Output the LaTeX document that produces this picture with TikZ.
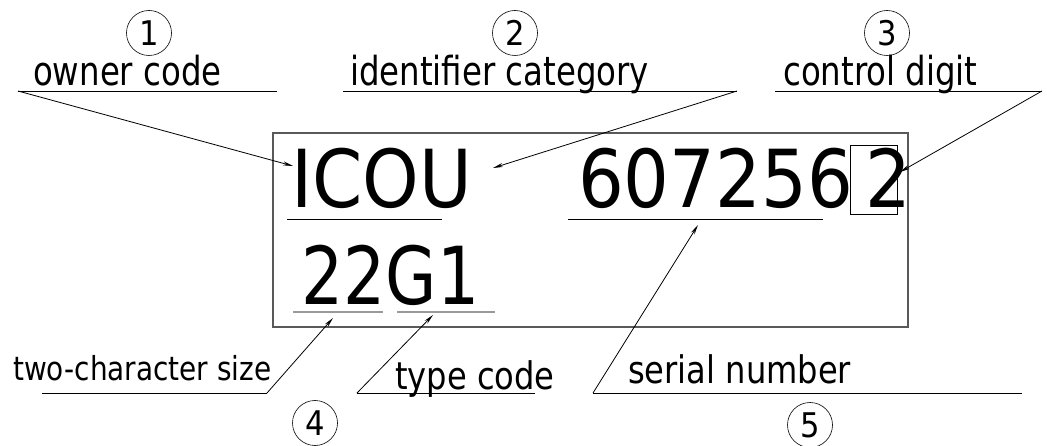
\documentclass[tikz,border=0pt]{standalone}
\usepackage{fontspec}
\setmainfont{DejaVu Sans Condensed}
\newfontfamily\nrwA[FakeStretch=0.9]{DejaVu Sans Condensed}
\newfontfamily\nrwB[FakeStretch=0.94]{DejaVu Sans Condensed}
\newfontfamily\nrwC[FakeStretch=0.92]{DejaVu Sans Condensed}
\usetikzlibrary{arrows.meta}
\begin{document}
\begin{tikzpicture}[x=1pt,y=-1pt,
  ln/.style={line width=0.8pt,black},
  gln/.style={line width=1.2pt,gray!80},
  arr/.style={ln,-{Stealth[length=10pt,width=4pt]}},
  toplbl/.style={font=\nrwA\fontsize{40}{44}\selectfont,anchor=base west,inner sep=0pt},
  botlbl/.style={font=\nrwB\fontsize{38}{42}\selectfont,anchor=base west,inner sep=0pt},
  smlbl/.style={font=\nrwB\fontsize{33}{36}\selectfont,anchor=base west,inner sep=0pt},
  bigtxt/.style={font=\fontsize{80}{88}\selectfont,anchor=base west,inner sep=0pt},
  num/.style={circle,draw,line width=0.6pt,minimum size=45pt,inner sep=0pt,font=\fontsize{34}{36}\selectfont}]
\useasboundingbox (0,0) rectangle (1047,446);
% plate
\draw[line width=1.2pt,gray!70!black] (273,133) rectangle (908,327);
% big text
\node[bigtxt] (icou) at (291,208) {ICOU};
\node[bigtxt] (ser) at (578,208) {607256};
\node[bigtxt] (cd) at (865,208) {2};
\node[bigtxt,font=\nrwC\fontsize{80}{88}\selectfont] (sz) at (301,305) {22};
\node[bigtxt,font=\nrwC\fontsize{80}{88}\selectfont,anchor=base west] (ty) at (sz.base east) {G1};
\node[draw,ln,minimum width=47pt,minimum height=69pt,inner sep=0pt] (cdbox) at (873.5,179.5) {};
% underlines in plate
\coordinate (u1a) at (287,219); \coordinate (u1b) at (442,219);
\coordinate (u2a) at (568,219); \coordinate (u2b) at (823,219);
\draw[ln] (u1a) -- (u1b);
\draw[ln] (u2a) -- (u2b);
\coordinate (u3a) at (293,312); \coordinate (u3b) at (383,312);
\coordinate (u4a) at (397,312); \coordinate (u4b) at (495,312);
\draw[gln] (u3a) -- (u3b);
\draw[gln] (u4a) -- (u4b);
% top labels
\node[num] (n1) at (149,33) {1};
\node[num] (n2) at (515,33) {2};
\node[num] (n3) at (887,33) {3};
\node[toplbl] (l1) at (33,86) {owner code};
\node[toplbl] (l2) at (350,86) {identifier category};
\node[toplbl] (l3) at (783,86) {control digit};
\coordinate (a1s) at (18,91); \coordinate (a1e) at (277,91);
\coordinate (a2s) at (343,91); \coordinate (a2e) at (737,91);
\coordinate (a3s) at (775,91); \coordinate (a3e) at (1042,91);
\coordinate (t1) at (293,166);
\coordinate (t2) at (493,168);
\coordinate (t3) at (900,172);
\draw[ln] (a1e) -- (a1s);
\draw[arr] (a1s) -- (t1);
\draw[ln] (a2s) -- (a2e);
\draw[arr] (a2e) -- (t2);
\draw[ln] (a3s) -- (a3e);
\draw[arr] (a3e) -- (t3);
% bottom labels
\node[smlbl] (l4) at (13,380) {two-character size};
\node[botlbl] (l5) at (395,389) {type code};
\node[botlbl] (l6) at (628,383) {serial number};
\node[num] (n4) at (315,423) {4};
\node[num] (n5) at (810,425) {5};
\coordinate (b1s) at (42,393); \coordinate (b1e) at (267,393);
\coordinate (b2s) at (357,393); \coordinate (b2e) at (535,393);
\coordinate (b3s) at (593,393); \coordinate (b3e) at (1022,393);
\coordinate (t4) at (333,318);
\coordinate (t5) at (433,315);
\coordinate (t6) at (698,225);
\draw[ln] (b1s) -- (b1e);
\draw[arr] (b1e) -- (t4);
\draw[ln] (b2e) -- (b2s);
\draw[arr] (b2s) -- (t5);
\draw[ln] (b3e) -- (b3s);
\draw[arr] (b3s) -- (t6);
\end{tikzpicture}
\end{document}
